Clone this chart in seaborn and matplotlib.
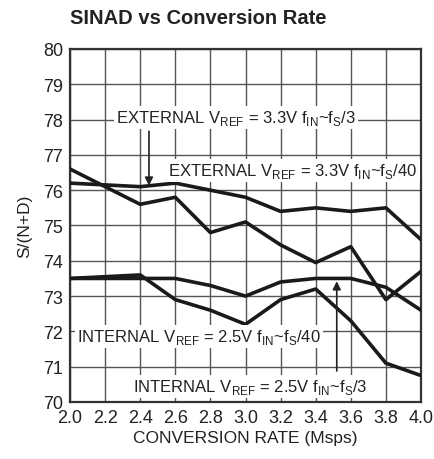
import numpy as np
import pandas as pd
import matplotlib
matplotlib.use('Agg')
import matplotlib.pyplot as plt
import seaborn as sns

# conversion rate (Msps)
rate = [2.0, 2.2, 2.4, 2.6, 2.8, 3.0, 3.2, 3.4, 3.6, 3.8, 4.0]

# S/(N+D)
ext_fs40 = [76.2, 76.15, 76.1, 76.2, 76.0, 75.8, 75.4, 75.5, 75.4, 75.5, 74.6]
ext_fs3 = [76.6, 76.1, 75.6, 75.8, 74.8, 75.1, 74.45, 73.95, 74.4, 72.9, 73.7]
int_fs3 = [73.5, 73.5, 73.5, 73.5, 73.3, 73.0, 73.4, 73.5, 73.5, 73.25, 72.6]
int_fs40 = [73.5, 73.55, 73.6, 72.9, 72.6, 72.2, 72.9, 73.2, 72.3, 71.1, 70.75]

series = {
    'ext40': ext_fs40,
    'ext3': ext_fs3,
    'int3': int_fs3,
    'int40': int_fs40,
}

df = pd.concat([pd.DataFrame({'rate': rate, 'sinad': v, 'curve': k})
                for k, v in series.items()], ignore_index=True)

sns.set_style('white')
plt.rcParams['font.family'] = ['Liberation Sans', 'DejaVu Sans']
plt.rcParams['mathtext.fontset'] = 'custom'
plt.rcParams['mathtext.rm'] = 'Liberation Sans'

fig = plt.figure(figsize=(4.35, 4.6), dpi=100)
ax = fig.add_axes([70 / 435, 57 / 460, 351 / 435, 353 / 460])

sns.lineplot(data=df, x='rate', y='sinad', units='curve', estimator=None,
             color='#1a1a1a', lw=2.6, ax=ax, zorder=3)

ax.set_xlim(2.0, 4.0)
ax.set_ylim(70, 80)
ax.set_xticks(np.arange(2.0, 4.01, 0.2))
ax.set_xticklabels([f'{t:.1f}' for t in np.arange(2.0, 4.01, 0.2)])
ax.set_yticks(range(70, 81))
ax.tick_params(length=0, labelsize=13, pad=5, colors='#222222')
ax.grid(True, color='#555555', lw=1.0)
for s in ax.spines.values():
    s.set_color('#333333')
    s.set_linewidth(1.6)

ax.set_xlabel('CONVERSION RATE (Msps)', fontsize=12.5, color='#222222', labelpad=3)
ax.set_ylabel('S/(N+D)', fontsize=12.5, color='#222222', labelpad=8)

fig.text(70 / 435, 1 - 18 / 460, 'SINAD vs Conversion Rate', fontsize=14.5,
         fontweight='bold', color='#222222', va='center', ha='left')

box = dict(facecolor='white', edgecolor='none', pad=1.5)
sub = lambda s: r'$_{\mathregular{' + s + '}}$'
lab_ext3 = 'EXTERNAL V' + sub('REF') + ' = 3.3V f' + sub('IN') + '~f' + sub('S') + '/3'
lab_ext40 = 'EXTERNAL V' + sub('REF') + ' = 3.3V f' + sub('IN') + '~f' + sub('S') + '/40'
lab_int40 = 'INTERNAL V' + sub('REF') + ' = 2.5V f' + sub('IN') + '~f' + sub('S') + '/40'
lab_int3 = 'INTERNAL V' + sub('REF') + ' = 2.5V f' + sub('IN') + '~f' + sub('S') + '/3'

kw = dict(fontsize=12, color='#222222', bbox=box, zorder=5, va='center')
ax.text(2.26, 78.05, lab_ext3, ha='left', **kw)
ax.text(2.56, 76.55, lab_ext40, ha='left', **kw)
ax.text(2.04, 71.85, lab_int40, ha='left', **kw)
ax.text(2.36, 70.45, lab_int3, ha='left', **kw)

arrow = dict(arrowstyle='-|>', color='#222222', lw=1.2, mutation_scale=12)
ax.annotate('', xy=(2.45, 76.05), xytext=(2.45, 77.75), arrowprops=arrow, zorder=6)
ax.annotate('', xy=(3.52, 73.5), xytext=(3.52, 70.8), arrowprops=arrow, zorder=6)

fig.savefig('out.png', dpi=100, facecolor='white')
